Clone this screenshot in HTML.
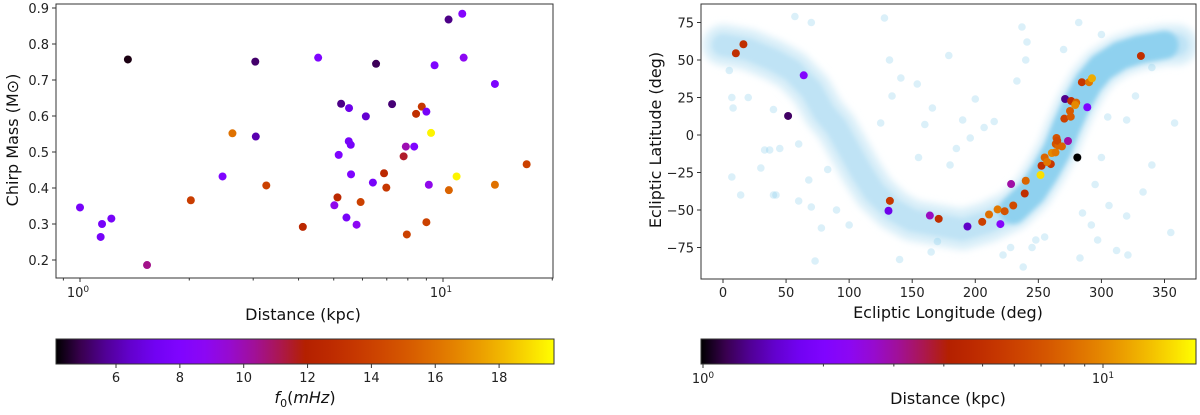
<!DOCTYPE html>
<html><head><meta charset="utf-8"><style>
body{margin:0;background:#fff;width:1200px;height:410px;overflow:hidden}
svg{font-family:"DejaVu Sans","Liberation Sans",sans-serif}
</style></head><body>
<svg id="fig" width="1200" height="410" viewBox="0 0 1200 410" xmlns="http://www.w3.org/2000/svg">
<defs>
<linearGradient id="gp" x1="0" x2="1" y1="0" y2="0"></linearGradient>
<filter id="soft" filterUnits="userSpaceOnUse" x="650" y="-50" width="600" height="400"><feGaussianBlur stdDeviation="4"/></filter>
<filter id="soft2" filterUnits="userSpaceOnUse" x="650" y="-50" width="600" height="400"><feGaussianBlur stdDeviation="2.5"/></filter>
<clipPath id="rclip"><rect x="701" y="4" width="495" height="275"/></clipPath>
</defs>
<g id="left"></g>
<g id="right"></g>
<g id="cbars"></g>
</svg>
<script>
// ---- Left panel data ----
const leftDist = [1.0,1.15,1.14,1.22,1.355,1.53,2.02,2.47,2.63,3.04,3.05,3.26,4.11,4.53,5.02,5.12,5.16,5.24,5.42,5.5,5.51,5.57,5.58,5.78,5.93,6.13,6.41,6.54,6.88,6.98,7.24,7.79,7.9,7.95,8.33,8.43,8.74,9.0,9.0,9.14,9.27,9.48,10.36,10.38,10.9,11.3,11.4,13.9,13.9,17.0];
const leftMass = [0.346,0.30,0.264,0.315,0.757,0.186,0.366,0.432,0.552,0.751,0.543,0.407,0.292,0.762,0.352,0.374,0.492,0.634,0.318,0.53,0.622,0.52,0.438,0.298,0.361,0.599,0.415,0.745,0.441,0.401,0.633,0.488,0.515,0.271,0.515,0.606,0.626,0.612,0.305,0.409,0.553,0.741,0.868,0.394,0.432,0.884,0.762,0.689,0.409,0.466];
const leftF0 = [7.5,7.5,7.5,7.5,4.3,10.5,13.8,8,16,5.2,6,14,12.5,8,9,12.5,8,5.5,7.5,7.5,7,7.5,8,8.8,14,6.5,7.5,5,12.5,13.5,5.3,11.5,10,14,8,13,13.5,7.5,14,9,19.5,8,5.5,15.5,19.5,8.3,8.8,7.8,16,14];
const leftYTicks = [0.2,0.3,0.4,0.5,0.6,0.7,0.8,0.9];
const f0Ticks = [6,8,10,12,14,16,18];

// ---- Right panel data ----
const bandLon = [0,20,40,55,70,80,90,100,110,120,135,150,170,190,210,230,245,255,265,272,280,290,300,315,330,350,360];
const bandLat = [60,57,50,43,30,15,5,-10,-25,-38,-50,-57,-60,-63,-58,-50,-38,-25,-10,5,20,35,45,53,57,60,60];
const outLon = [5,7,8,7,14,20,30,33,37,40,42,45,40,57,60,73,60,70,68,70,78,83,90,100,128,132,134,141,154,125,155,140,165,170,166,160,179,180,200,185,190,196,207,215,222,228,233,237,240,241,238,245,248,255,270,282,285,283,292,297,300,306,312,321,320,340,355,358,333,320,305,327,340,300,295];
const outLat = [43,25,18,-28,-40,25,-22,-10,-10,-40,-40,-9,17,79,-44,-84,-6,75,-30,-48,-62,-23,-50,-60,78,50,26,38,34,8,-15,-83,-78,-71,18,7,53,-20,24,-9,10,-2,5,9,-80,-75,36,72,50,62,-88,-75,-70,-68,57,75,-52,-82,-60,-70,67,-47,-77,-80,-54,-20,-65,8,-38,10,12,26,45,-15,-33];
const srcLon = [10.2,16.2,64,51.6,132.3,131.2,164,171,193.8,205.5,210.9,217.7,219.9,223.3,228.4,230.1,239.2,240,251.7,252.5,259.9,255,257,260.7,263.6,263.8,264.4,266,265,268.7,273.5,280.9,270.6,275.7,275.1,271.2,276,280,279.2,288.8,284.5,290.2,292.5,331.3];
const srcLat = [54.5,60.5,39.8,12.7,-43.9,-50.5,-53.7,-55.9,-61,-57.9,-53,-49.6,-59.4,-50.8,-32.7,-47,-39,-30.5,-26.7,-20.5,-19.4,-15,-18,-12,-11.6,-6,-2,-7,-3.8,-7.6,-4,-15,10.9,12.2,16,24,22.7,21.6,20,18.5,35.2,35.2,37.8,52.7];
const srcDist = [5,5,2.1,1.2,5.5,1.7,2.8,5,1.5,6,8.5,9,2.2,7,3,6.5,5,8,15,5,5.5,8,9,10,9,7,7,8,6.5,8,3,1,6,7.5,7.5,1.3,5,8,10,2,5.5,9,12,5];
const rightXTicks = [0,50,100,150,200,250,300,350];
const rightYTicks = [-75,-50,-25,0,25,50,75];

const NS="http://www.w3.org/2000/svg";
function mk(tag,attrs,parent){const e=document.createElementNS(NS,tag);for(const k in attrs)e.setAttribute(k,attrs[k]);parent.appendChild(e);return e;}
function gnuplot(t){t=Math.max(0,Math.min(1,t));const r=Math.sqrt(t),g=t*t*t,b=Math.max(0,Math.sin(2*Math.PI*t));return `rgb(${Math.round(r*255)},${Math.round(g*255)},${Math.round(b*255)})`;}

const L=document.getElementById('left'),R=document.getElementById('right'),C=document.getElementById('cbars');
// Left axes
const lx0=56,lx1=553,ly0=4,ly1=278;
const lxs=d=>80+Math.log10(d)*363;
const lys=m=>260-(m-0.2)*360;
const f0min=4.12,f0max=19.72;
const fnorm=f=>(f-f0min)/(f0max-f0min);
for(let i=0;i<leftDist.length;i++){
  const c=mk('circle',{cx:lxs(leftDist[i]),cy:lys(leftMass[i]),r:4,fill:gnuplot(fnorm(leftF0[i]))},L);
  
  
}
mk('rect',{x:lx0,y:ly0,width:lx1-lx0,height:ly1-ly0,fill:'none',stroke:'#333','stroke-width':1},L);
leftYTicks.forEach(v=>{const y=lys(v);mk('line',{x1:lx0-4,x2:lx0,y1:y,y2:y,stroke:'#333'},L);
  const t=mk('text',{x:lx0-7,y:y+5,'text-anchor':'end','font-size':13,fill:'#222'},L);t.textContent=v.toFixed(1);
  });
[0.9,2,3,4,5,6,7,8,9,20].forEach(v=>{const x=lxs(v);if(x>lx0&&x<lx1)mk('line',{x1:x,x2:x,y1:ly1,y2:ly1+2.5,stroke:'#333'},L);});
[1,10].forEach((v,i)=>{const x=lxs(v);mk('line',{x1:x,x2:x,y1:ly1,y2:ly1+4,stroke:'#333'},L);
  const t=mk('text',{x:x-2,y:ly1+19,'text-anchor':'middle','font-size':13,fill:'#222'},L);t.innerHTML='10<tspan dy="-5" font-size="9">'+i+'</tspan>';
  });
let t=mk('text',{x:303,y:320,'text-anchor':'middle','font-size':16,fill:'#111'},L);t.textContent='Distance (kpc)';

t=mk('text',{x:0,y:0,'text-anchor':'middle','font-size':16,fill:'#111',transform:'translate(18,140) rotate(-90)'},L);t.textContent='Chirp Mass (M⊙)';


// Right axes
const rx0=701,rx1=1196,ry0=4,ry1=279;
const rxs=l=>723+l*1.2614;
const rys=b=>135-b*1.5;
const bg=mk('g',{'clip-path':'url(#rclip)'},R);
let pts=bandLon.map((l,i)=>rxs(l)+','+rys(bandLat[i])).join(' ');
let halo=mk('polyline',{points:pts,fill:'none',stroke:'#d6edf8','stroke-width':40,'stroke-linejoin':'round','stroke-linecap':'round',filter:'url(#soft)'},bg);

let band=mk('polyline',{points:pts,fill:'none',stroke:'#bfe3f5','stroke-width':22,'stroke-linejoin':'round','stroke-linecap':'round',filter:'url(#soft2)'},bg);

let dpts=bandLon.map((l,i)=>[l,bandLat[i]]).filter(p=>p[0]>=230&&p[0]<=350).map(p=>rxs(p[0])+','+rys(p[1])).join(' ');
let dense=mk('polyline',{points:dpts,fill:'none',stroke:'#8fd1ef','stroke-width':28,'stroke-linejoin':'round','stroke-linecap':'round',filter:'url(#soft2)'},bg);

for(let i=0;i<outLon.length;i++){
  const c=mk('circle',{cx:rxs(outLon[i]),cy:rys(outLat[i]),r:3.8,fill:'#87ceeb','fill-opacity':0.3},bg);
  
}
const dnorm=d=>Math.log10(d)/Math.log10(17);
for(let i=0;i<srcLon.length;i++){
  const c=mk('circle',{cx:rxs(srcLon[i]),cy:rys(srcLat[i]),r:4,fill:gnuplot(dnorm(srcDist[i]))},R);
  
}
mk('rect',{x:rx0,y:ry0,width:rx1-rx0,height:ry1-ry0,fill:'none',stroke:'#333'},R);
rightXTicks.forEach(v=>{const x=rxs(v);mk('line',{x1:x,x2:x,y1:ry1,y2:ry1+4,stroke:'#333'},R);
  const t=mk('text',{x:x,y:ry1+18,'text-anchor':'middle','font-size':13,fill:'#222'},R);t.textContent=v;
  });
rightYTicks.forEach(v=>{const y=rys(v);mk('line',{x1:rx0-4,x2:rx0,y1:y,y2:y,stroke:'#333'},R);
  const t=mk('text',{x:rx0-7,y:y+5,'text-anchor':'end','font-size':13,fill:'#222'},R);t.textContent=v<0?'−'+(-v):v;
  });
t=mk('text',{x:948,y:318,'text-anchor':'middle','font-size':16,fill:'#111'},R);t.textContent='Ecliptic Longitude (deg)';

t=mk('text',{x:0,y:0,'text-anchor':'middle','font-size':16,fill:'#111',transform:'translate(661,140) rotate(-90)'},R);t.textContent='Ecliptic Latitude (deg)';


// Colorbars
const g=document.getElementById('gp');
for(let i=0;i<=20;i++){mk('stop',{offset:(i/20),'stop-color':gnuplot(i/20)},g);}
const cb1=mk('rect',{x:56,y:339,width:498,height:25,fill:'url(#gp)',stroke:'#333'},C);

const fx=f=>56+fnorm(f)*498;
f0Ticks.forEach(v=>{const x=fx(v);mk('line',{x1:x,x2:x,y1:364,y2:368,stroke:'#333'},C);
  const t=mk('text',{x:x,y:382,'text-anchor':'middle','font-size':13,fill:'#222'},C);t.textContent=v;
  });
t=mk('text',{x:305,y:403,'text-anchor':'middle','font-size':16,fill:'#111'},C);t.innerHTML='<tspan font-style="italic">f</tspan><tspan font-size="11" dy="4">0</tspan><tspan dy="-4">(</tspan><tspan font-style="italic">mHz</tspan>)';

const cb2=mk('rect',{x:701,y:339,width:495,height:25,fill:'url(#gp)',stroke:'#333'},C);

const dx=d=>703+Math.log10(d)*400;
[2,3,4,5,6,7,8,9].forEach(v=>{const x=dx(v);mk('line',{x1:x,x2:x,y1:364,y2:366.5,stroke:'#333'},C);});
[1,10].forEach((v,i)=>{const x=dx(v);mk('line',{x1:x,x2:x,y1:364,y2:368,stroke:'#333'},C);
  const t=mk('text',{x:x,y:383,'text-anchor':'middle','font-size':13,fill:'#222'},C);t.innerHTML='10<tspan dy="-5" font-size="9">'+i+'</tspan>';
  });
t=mk('text',{x:948,y:404,'text-anchor':'middle','font-size':16,fill:'#111'},C);t.textContent='Distance (kpc)';

</script>
</body></html>
